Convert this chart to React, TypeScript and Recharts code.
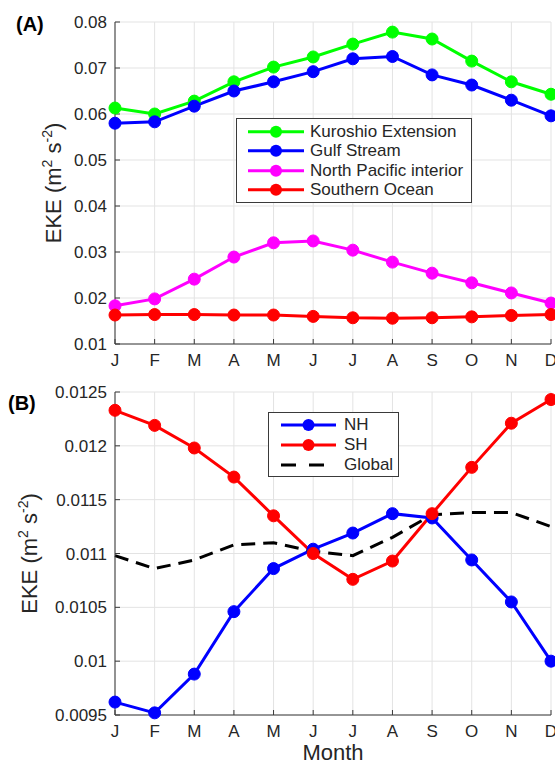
import { LineChart, Line, XAxis, YAxis, CartesianGrid, Legend } from 'recharts';

const months = ['J', 'F', 'M', 'A', 'M', 'J', 'J', 'A', 'S', 'O', 'N', 'D'];

// panel A, regional EKE
const kuroshio = [0.0613, 0.06, 0.0628, 0.067, 0.0702, 0.0724, 0.0752, 0.0778, 0.0763, 0.0715, 0.067, 0.0643];
const gulfStream = [0.058, 0.0583, 0.0617, 0.065, 0.067, 0.0692, 0.072, 0.0725, 0.0685, 0.0663, 0.063, 0.0596];
const npInterior = [0.0183, 0.0198, 0.0241, 0.0289, 0.032, 0.0324, 0.0304, 0.0278, 0.0254, 0.0233, 0.0211, 0.0189];
const southernOcean = [0.0163, 0.0164, 0.0164, 0.0163, 0.0163, 0.016, 0.0157, 0.0156, 0.0157, 0.0159, 0.0162, 0.0164];

// panel B, hemispheric EKE
const nh = [0.00962, 0.00952, 0.00988, 0.01046, 0.01086, 0.01104, 0.01119, 0.01137, 0.01133, 0.01094, 0.01055, 0.01];
const sh = [0.01233, 0.01219, 0.01198, 0.01171, 0.01135, 0.011, 0.01076, 0.01093, 0.01137, 0.0118, 0.01221, 0.01243];
const globalMean = [0.01098, 0.01086, 0.01094, 0.01108, 0.0111, 0.01102, 0.01098, 0.01115, 0.01136, 0.01138, 0.01138, 0.01125];

const ticksA = [0.01, 0.02, 0.03, 0.04, 0.05, 0.06, 0.07, 0.08];
const ticksB = [0.0095, 0.01, 0.0105, 0.011, 0.0115, 0.012, 0.0125];

const dataA = months.map((m, i) => ({
  month: m,
  kuroshio: kuroshio[i],
  gulf: gulfStream[i],
  npi: npInterior[i],
  southern: southernOcean[i],
}));

const dataB = months.map((m, i) => ({
  month: m,
  nh: nh[i],
  sh: sh[i],
  global: globalMean[i],
}));

const FONT = '"Liberation Sans", Arial, Helvetica, sans-serif';
const TXT = '#262626';
const AXIS = '#3a3a3a';

const seriesA = [
  { key: 'kuroshio', name: 'Kuroshio Extension', color: '#00ff00' },
  { key: 'gulf', name: 'Gulf Stream', color: '#0000ff' },
  { key: 'npi', name: 'North Pacific interior', color: '#ff00ff' },
  { key: 'southern', name: 'Southern Ocean', color: '#ff0000' },
];

const seriesB = [
  { key: 'nh', name: 'NH', color: '#0000ff', dashed: false },
  { key: 'sh', name: 'SH', color: '#ff0000', dashed: false },
  { key: 'global', name: 'Global', color: '#000000', dashed: true },
];

const fmt = (v: number) => String(Number(v.toFixed(4)));

const EkeLabel = ({ viewBox, baseX }: any) => {
  const cy = viewBox ? viewBox.y + viewBox.height / 2 : 0;
  return (
    <text
      x={baseX}
      y={cy}
      transform={`rotate(-90, ${baseX}, ${cy})`}
      textAnchor="middle"
      fontSize={22}
      fill={TXT}
      fontFamily={FONT}
    >
      EKE (m
      <tspan fontSize={14} dy={-9}>2</tspan>
      <tspan dy={9}> s</tspan>
      <tspan fontSize={14} dy={-9}>-2</tspan>
      <tspan dy={9}>)</tspan>
    </text>
  );
};

const LegendBox = ({ items, lineStart, lineLen, rowH, padTop, width, textGap }: any) => (
  <div
    style={{
      width,
      border: `1px solid ${AXIS}`,
      background: '#fff',
      paddingTop: padTop,
      paddingBottom: padTop,
      boxSizing: 'border-box',
      fontFamily: FONT,
      fontSize: 17,
      color: TXT,
    }}
  >
    {items.map((s: any) => (
      <div key={s.key} style={{ height: rowH, display: 'flex', alignItems: 'center' }}>
        <svg width={lineStart + lineLen} height={rowH} style={{ flexShrink: 0 }}>
          <line
            x1={lineStart}
            x2={lineStart + lineLen}
            y1={rowH / 2}
            y2={rowH / 2}
            stroke={s.color}
            strokeWidth={3}
            strokeDasharray={s.dashed ? '15 13' : undefined}
          />
          {!s.dashed && <circle cx={lineStart + lineLen / 2} cy={rowH / 2} r={6} fill={s.color} />}
        </svg>
        <span style={{ marginLeft: textGap, whiteSpace: 'nowrap', lineHeight: 1 }}>{s.name}</span>
      </div>
    ))}
  </div>
);

const tickStyle = { fontSize: 17, fill: TXT, fontFamily: FONT };

const App = () => {
  return (
    <div
      style={{
        position: 'absolute',
        left: 0,
        top: 0,
        width: 555,
        height: 764,
        background: '#fff',
        fontFamily: FONT,
      }}
    >
      <div style={{ position: 'absolute', left: 0, top: 0 }}>
        <LineChart width={555} height={380} data={dataA} margin={{ top: 22, right: 4, left: 0, bottom: 0 }}>
          <CartesianGrid stroke="#e3e3e3" strokeWidth={1} />
          <XAxis
            dataKey="month"
            allowDuplicatedCategory
            height={36}
            stroke={AXIS}
            tickSize={-5}
            tickMargin={15}
            tick={tickStyle}
            interval={0}
          />
          <XAxis
            xAxisId="top"
            orientation="top"
            dataKey="month"
            allowDuplicatedCategory
            height={0}
            stroke={AXIS}
            tickSize={-5}
            tickFormatter={() => ''}
            interval={0}
          />
          <YAxis
            domain={[0.01, 0.08]}
            ticks={ticksA}
            width={115}
            stroke={AXIS}
            tickSize={-5}
            tickMargin={13}
            tick={tickStyle}
            tickFormatter={(v: number) => v.toFixed(2)}
            label={<EkeLabel baseX={61} />}
            interval={0}
          />
          <YAxis
            yAxisId="right"
            orientation="right"
            domain={[0.01, 0.08]}
            ticks={ticksA}
            width={0}
            stroke={AXIS}
            tickSize={-5}
            tickFormatter={() => ''}
            interval={0}
          />
          <Legend
            layout="horizontal"
            verticalAlign="middle"
            align="center"
            wrapperStyle={{ left: 236, top: 118, width: 236 }}
            content={() => (
              <LegendBox items={seriesA} lineStart={11} lineLen={56} rowH={19.5} padTop={2.5} width={236} textGap={6} />
            )}
          />
          {seriesA.map((s) => (
            <Line
              key={s.key}
              dataKey={s.key}
              name={s.name}
              stroke={s.color}
              strokeWidth={3}
              dot={{ r: 6, fill: s.color, stroke: s.color, strokeWidth: 1 }}
              isAnimationActive={false}
            />
          ))}
        </LineChart>
      </div>

      <div style={{ position: 'absolute', left: 0, top: 370 }}>
        <LineChart width={555} height={394} data={dataB} margin={{ top: 22, right: 4, left: 0, bottom: 0 }}>
          <CartesianGrid stroke="#e3e3e3" strokeWidth={1} />
          <XAxis
            dataKey="month"
            allowDuplicatedCategory
            height={49}
            stroke={AXIS}
            tickSize={-5}
            tickMargin={15}
            tick={tickStyle}
            interval={0}
            label={{ value: 'Month', position: 'insideBottom', offset: 4, fontSize: 22, fill: TXT, fontFamily: FONT }}
          />
          <XAxis
            xAxisId="top"
            orientation="top"
            dataKey="month"
            allowDuplicatedCategory
            height={0}
            stroke={AXIS}
            tickSize={-5}
            tickFormatter={() => ''}
            interval={0}
          />
          <YAxis
            domain={[0.0095, 0.0125]}
            ticks={ticksB}
            width={115}
            stroke={AXIS}
            tickSize={-5}
            tickMargin={13}
            tick={tickStyle}
            tickFormatter={fmt}
            label={<EkeLabel baseX={37} />}
            interval={0}
          />
          <YAxis
            yAxisId="right"
            orientation="right"
            domain={[0.0095, 0.0125]}
            ticks={ticksB}
            width={0}
            stroke={AXIS}
            tickSize={-5}
            tickFormatter={() => ''}
            interval={0}
          />
          <Legend
            layout="horizontal"
            verticalAlign="middle"
            align="center"
            wrapperStyle={{ left: 268, top: 42, width: 131 }}
            content={() => (
              <LegendBox items={seriesB} lineStart={12} lineLen={55} rowH={20} padTop={1.5} width={131} textGap={8} />
            )}
          />
          {seriesB.map((s) => (
            <Line
              key={s.key}
              dataKey={s.key}
              name={s.name}
              stroke={s.color}
              strokeWidth={3}
              strokeDasharray={s.dashed ? '14 8' : undefined}
              dot={s.dashed ? false : { r: 6, fill: s.color, stroke: s.color, strokeWidth: 1 }}
              isAnimationActive={false}
            />
          ))}
        </LineChart>
      </div>

      <svg
        width={555}
        height={764}
        style={{ position: 'absolute', left: 0, top: 0, pointerEvents: 'none' }}
      >
        <text x={16} y={31} fontSize={20} fontWeight="bold" fill="#000" fontFamily={FONT}>
          (A)
        </text>
        <text x={8} y={410} fontSize={20} fontWeight="bold" fill="#000" fontFamily={FONT}>
          (B)
        </text>
      </svg>
    </div>
  );
};

export default App;
